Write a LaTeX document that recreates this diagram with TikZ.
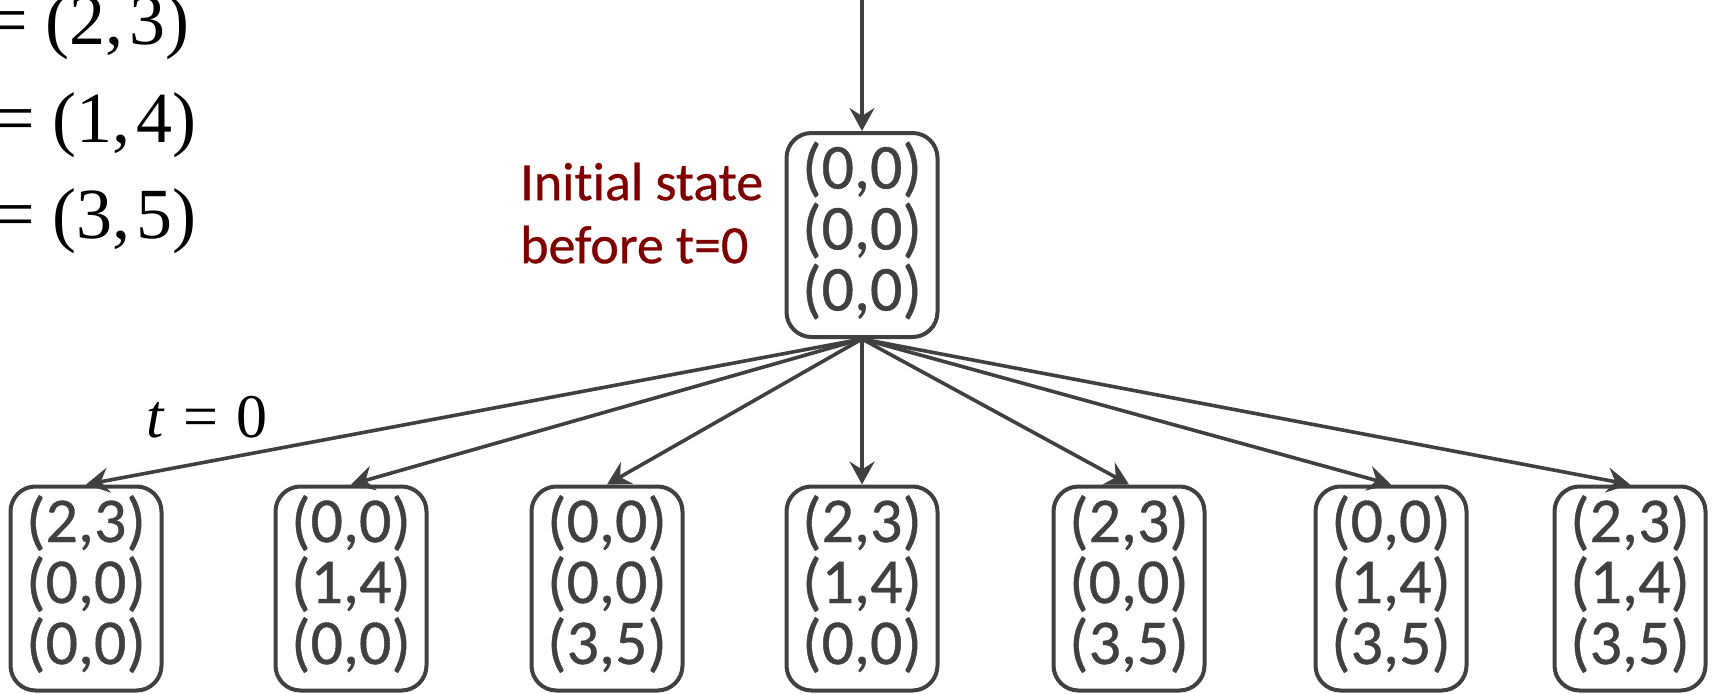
\documentclass[tikz,border=0pt]{standalone}
\usepackage{fontspec}
\setmainfont{Carlito}[Ligatures=NoCommon,FakeBold=0.6]
\newfontfamily\timesfont{Liberation Serif}
\usetikzlibrary{arrows.meta}
\definecolor{inkgray}{HTML}{404040}
\definecolor{notered}{HTML}{800000}
% struts fixing the first-line height and last-line depth of the state boxes
\newcommand\topstrut{\rule{0pt}{50pt}}
\newcommand\botstrut{\rule[-21pt]{0pt}{21pt}}
\newcommand\statebox[3]{\topstrut#1\\#2\\#3\botstrut}
\begin{document}
\begin{tikzpicture}[x=1pt,y=-1pt,
  statenode/.style={draw=inkgray,line width=4pt,rounded corners=25pt,
    minimum width=151pt,minimum height=204pt,inner sep=0pt,
    text=inkgray,align=center,font=\fontsize{64}{61}\selectfont},
  link/.style={draw=inkgray,line width=3.6pt,
    -{Stealth[length=23pt,width=25pt,inset=8pt]}},
  eqn/.style={anchor=base west,inner sep=0pt,font=\timesfont\fontsize{72}{80}\selectfont}]
\path[use as bounding box] (0,0) rectangle (1715,693);

% coordinate definitions on the left
\node[eqn] (e1) at (-13,45) {= (2,\kern0.08em3)};
\node[eqn] (e2) at (-6,142) {= (1,\kern0.08em4)};
\node[eqn] (e3) at (-6,238) {= (3,\kern0.08em5)};

% root state
\coordinate (in) at (862,0);
\node[statenode] (root) at (862,235) {\statebox{(0,0)}{(0,0)}{(0,0)}};
\node[anchor=north west,inner sep=0pt,align=left,text=notered,
  font=\fontsize{54}{63}\selectfont] (note) at (520,155)
  {\rule{0pt}{45pt}Initial state\\before t=0};

% states after the first step
\node[statenode] (s1) at (86,588.5)   {\statebox{(2,3)}{(0,0)}{(0,0)}};
\node[statenode] (s2) at (351,588.5)  {\statebox{(0,0)}{(1,4)}{(0,0)}};
\node[statenode] (s3) at (607,588.5)  {\statebox{(0,0)}{(0,0)}{(3,5)}};
\node[statenode] (s4) at (862,588.5)  {\statebox{(2,3)}{(1,4)}{(0,0)}};
\node[statenode] (s5) at (1129,588.5) {\statebox{(2,3)}{(0,0)}{(3,5)}};
\node[statenode] (s6) at (1391,588.5) {\statebox{(0,0)}{(1,4)}{(3,5)}};
\node[statenode] (s7) at (1630,588.5) {\statebox{(2,3)}{(1,4)}{(3,5)}};

\node[anchor=base west,inner sep=0pt,font=\timesfont\fontsize{62}{70}\selectfont]
  (tlabel) at (146,437) {\textit{t}\hspace{0.3em}=\hspace{0.3em}0};

% transitions
\draw[link] (in) -- (root.north);
\foreach \k in {1,...,7}{
  \draw[link] (root.south) -- (s\k.north);
}
\end{tikzpicture}
\end{document}
